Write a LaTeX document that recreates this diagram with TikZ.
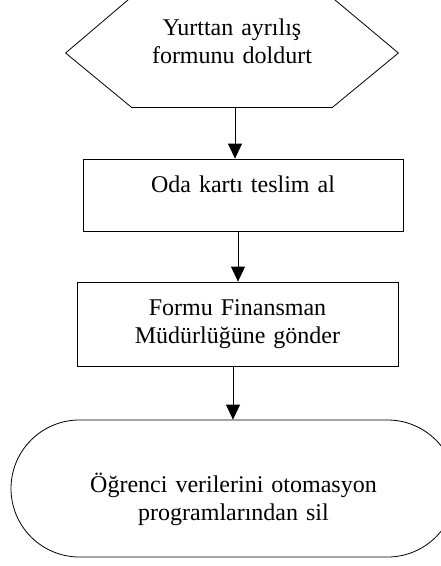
\documentclass[tikz,border=0pt]{standalone}
\usepackage{fontspec}
\setmainfont{Liberation Serif}
\usetikzlibrary{arrows.meta}
\tikzset{
  stepshape/.style={draw, line width=0.8pt, inner sep=0pt, align=center, font=\fontsize{24}{28.5}\selectfont},
  flow/.style={line width=0.8pt, -{Triangle[width=14pt,length=15pt]}}
}
\begin{document}
\begin{tikzpicture}[x=1pt,y=-1pt]
\useasboundingbox (0,0) rectangle (441,566) ;
\node[stepshape, draw=none, text width=332pt, text height=36pt, text depth=72pt] (form) at (232,53) {Yurttan ayrılış\\formunu doldurt} ; % start
\draw[line width=0.8pt] (form.west) -- ([xshift=64pt]form.north west) -- ([xshift=-65pt]form.north east) -- (form.east) -- ([xshift=-66pt]form.south east) -- ([xshift=66pt]form.south west) -- cycle ; % hexagon
\node[stepshape, text width=320pt, text height=33pt, text depth=39pt] (kart) at (243,195) {Oda kartı teslim al} ; % step 1
\node[stepshape, text width=321pt, text height=33pt, text depth=51pt] (finans) at (237.5,324) {Formu Finansman\\Müdürlüğüne gönder} ; % step 2
\node[stepshape, rounded corners=68.5pt, text width=445pt, text height=72pt, text depth=65pt] (sil) at (233.5,488.5) {Öğrenci verilerini otomasyon\\programlarından sil} ; % end
\draw[flow] ([xshift=3pt]form.south) -- ([xshift=3pt]form.south |- kart.north) ; % form -> kart
\draw[flow] ([xshift=-5pt]kart.south) -- ([xshift=-5pt]kart.south |- finans.north) ; % kart -> finans
\draw[flow] ([xshift=-4.5pt]finans.south) -- ([xshift=-4.5pt]finans.south |- sil.north) ; % finans -> sil
\end{tikzpicture}
\end{document}
